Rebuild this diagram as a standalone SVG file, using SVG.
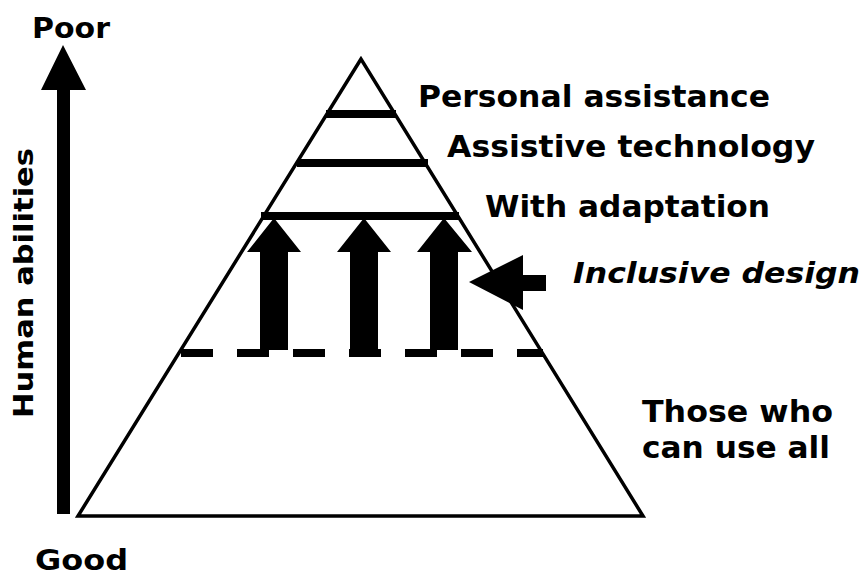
<svg xmlns="http://www.w3.org/2000/svg" width="865" height="576" viewBox="0 0 865 576">
<style>
.t{font-family:"DejaVu Sans","Verdana",sans-serif;font-weight:bold;fill:#000}
.bar{stroke:#000;stroke-width:8;fill:none}
.arr{fill:#000;stroke:none}
</style>
<rect width="865" height="576" fill="#fff"/>
<g id="axis">
<polygon class="arr" points="63,45 86,90 70,90 70,514 57,514 57,90 41,90"/>
<text class="t" x="32" y="38" font-size="28" textLength="78" lengthAdjust="spacingAndGlyphs">Poor</text>
<text class="t" x="35" y="570" font-size="28" textLength="93" lengthAdjust="spacingAndGlyphs">Good</text>
<text class="t" transform="translate(33,418) rotate(-90)" font-size="26" textLength="270" lengthAdjust="spacingAndGlyphs">Human abilities</text>
</g>
<g id="pyramid">
<polygon points="361,59 78,516 643,516" fill="#fff" stroke="#000" stroke-width="3.5" stroke-linejoin="miter"/>
</g>
<g id="levels">
<line class="bar" x1="326" y1="114" x2="396" y2="114"/>
<line class="bar" x1="297" y1="163" x2="428" y2="163"/>
<line class="bar" x1="261" y1="216" x2="459" y2="216"/>
<line class="bar" x1="181" y1="353" x2="543" y2="353" stroke-dasharray="32 24"/>
</g>
<g id="connectors">
<polygon class="arr" points="274,218 301,252 288,252 288,350 260,350 260,252 247,252"/>
<polygon class="arr" points="364,218 391,252 378,252 378,350 350,350 350,252 337,252"/>
<polygon class="arr" points="444,218 472,252 458,252 458,350 430,350 430,252 417,252"/>
<polygon class="arr" points="469,282 523,255 523,275 546,275 546,291 523,291 523,310"/>
</g>
<g id="labels">
<text class="t" x="418" y="107" font-size="30" textLength="352" lengthAdjust="spacingAndGlyphs">Personal assistance</text>
<text class="t" x="447" y="157" font-size="30" textLength="368" lengthAdjust="spacingAndGlyphs">Assistive technology</text>
<text class="t" x="485" y="217" font-size="30" textLength="285" lengthAdjust="spacingAndGlyphs">With adaptation</text>
<text class="t" x="573" y="283" font-size="29" font-style="italic" textLength="287" lengthAdjust="spacingAndGlyphs">Inclusive design</text>
<text class="t" x="642" y="422" font-size="31" textLength="191" lengthAdjust="spacingAndGlyphs">Those who</text>
<text class="t" x="642" y="458" font-size="31" textLength="188" lengthAdjust="spacingAndGlyphs">can use all</text>
</g>
</svg>
